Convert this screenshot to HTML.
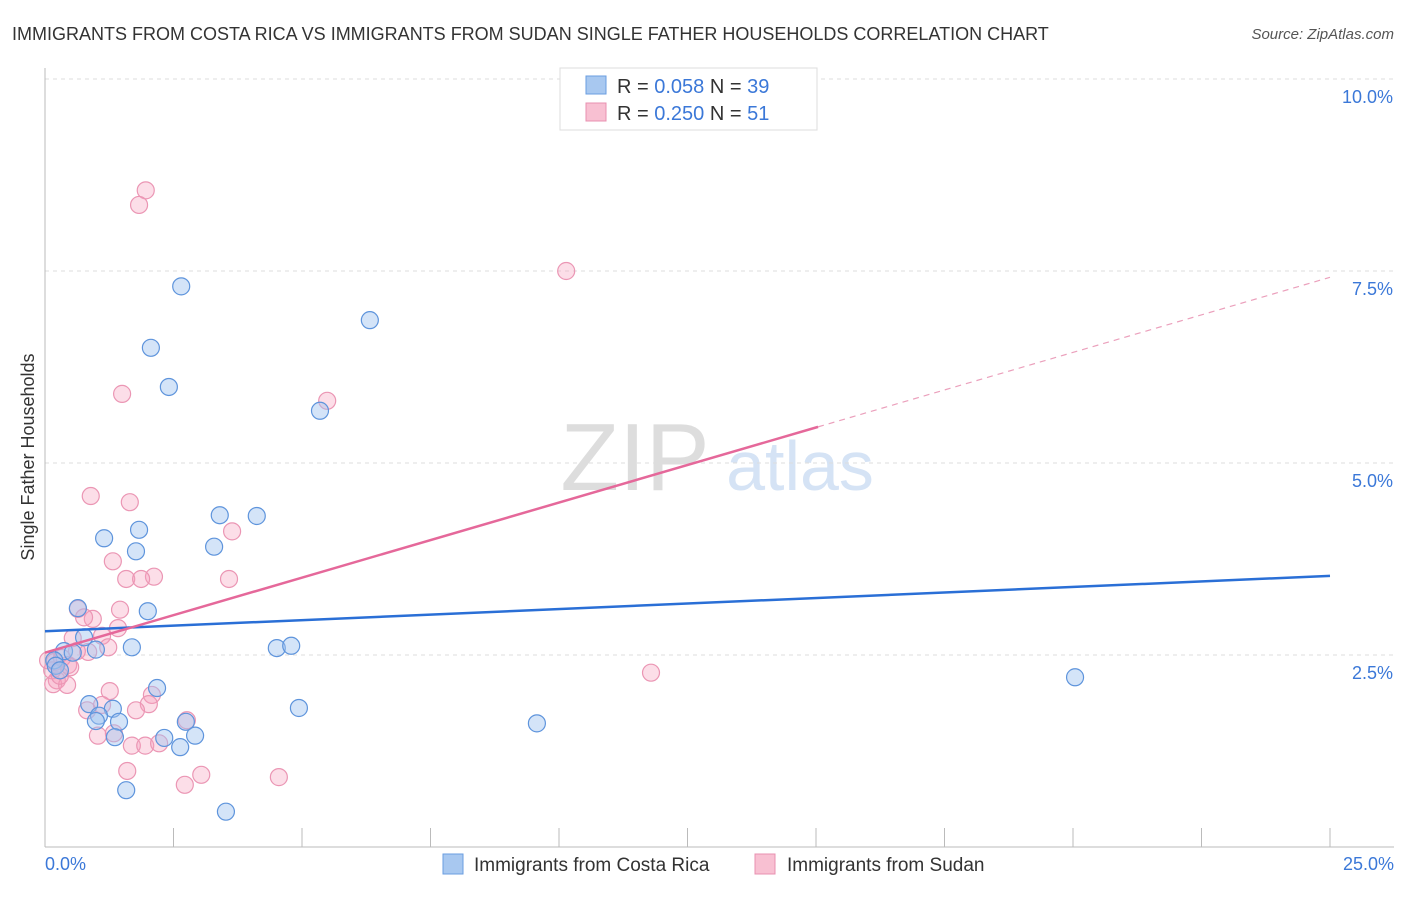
<!DOCTYPE html>
<html><head><meta charset="utf-8"><style>
body{margin:0;background:#fff;font-family:"Liberation Sans",sans-serif;}
svg text{font-family:"Liberation Sans",sans-serif;}
</style></head><body>
<svg id="c" width="1406" height="892" xmlns="http://www.w3.org/2000/svg">
<text x="12" y="40" font-size="18" fill="#333">IMMIGRANTS FROM COSTA RICA VS IMMIGRANTS FROM SUDAN SINGLE FATHER HOUSEHOLDS CORRELATION CHART</text>
<text x="1394" y="39" font-size="15" fill="#555" font-style="italic" text-anchor="end">Source: ZipAtlas.com</text>
<text x="635" y="490" font-size="96" fill="#ddd" font-family="Liberation Serif" text-anchor="middle">ZIP</text>
<text x="800" y="490" font-size="70" fill="#d5e3f5" text-anchor="middle">atlas</text>
<text transform="translate(34,457) rotate(-90)" font-size="18" fill="#333" text-anchor="middle">Single Father Households</text>
<g id="grid"></g><g id="pts"></g><g id="lines"></g>
<g>
<rect x="560" y="68" width="257" height="62" fill="#fff" stroke="#ddd"/>
<rect x="586" y="76" width="20" height="18" fill="#a8c8f0" stroke="#6a9ee0"/>
<rect x="586" y="103" width="20" height="18" fill="#f8c0d2" stroke="#e890b0"/>
<text x="617" y="93" font-size="20" fill="#333">R = <tspan fill="#3b78d8">0.058</tspan>   N = <tspan fill="#3b78d8">39</tspan></text>
<text x="617" y="120" font-size="20" fill="#333">R = <tspan fill="#3b78d8">0.250</tspan>   N =  <tspan fill="#3b78d8">51</tspan></text>
</g>
<g>
<rect x="443" y="854" width="20" height="20" fill="#a8c8f0" stroke="#6a9ee0"/>
<text x="474" y="871" font-size="19" fill="#333">Immigrants from Costa Rica</text>
<rect x="755" y="854" width="20" height="20" fill="#f8c0d2" stroke="#e890b0"/>
<text x="787" y="871" font-size="19" fill="#333">Immigrants from Sudan</text>
</g>
<text x="45" y="870" font-size="18" fill="#3b78d8">0.0%</text>
<text x="1394" y="870" font-size="18" fill="#3b78d8" text-anchor="end">25.0%</text>
</svg>
<script>
const yTicks=[2.5,5.0,7.5,10.0];
const yTickLabels=["2.5%","5.0%","7.5%","10.0%"];
const blueX=[2.65,2.06,2.41,6.32,5.35,3.40,4.12,1.83,1.15,1.77,3.29,2.00,0.64,0.76,1.69,4.51,4.79,0.37,0.99,0.18,0.21,0.29,2.18,0.86,1.32,1.05,1.44,2.74,4.94,0.99,2.32,2.92,1.36,2.63,1.58,3.52,9.57,20.04,0.54];
const blueY=[7.30,6.50,5.99,6.86,5.68,4.32,4.31,4.13,4.02,3.85,3.91,3.07,3.11,2.73,2.60,2.59,2.62,2.55,2.57,2.43,2.36,2.30,2.07,1.86,1.80,1.71,1.63,1.63,1.81,1.64,1.42,1.45,1.43,1.30,0.74,0.46,1.61,2.21,2.53];
const pinkX=[1.96,1.83,10.14,1.50,5.49,0.89,1.65,3.64,1.32,1.58,2.12,1.87,3.58,0.64,1.46,0.93,0.76,1.42,1.11,0.54,0.84,0.62,0.45,0.19,0.23,0.16,0.43,11.79,1.26,2.08,2.02,1.77,0.82,1.11,2.76,1.34,1.03,1.69,1.95,2.22,1.60,3.04,2.72,4.55,0.14,0.33,0.49,0.06,0.29,1.23];
const pinkY=[8.55,8.36,7.50,5.90,5.81,4.57,4.49,4.11,3.72,3.49,3.52,3.49,3.49,3.10,3.09,2.97,2.99,2.85,2.75,2.72,2.54,2.55,2.37,2.41,2.17,2.12,2.11,2.27,2.03,1.98,1.86,1.78,1.78,1.85,1.65,1.48,1.45,1.32,1.32,1.35,0.99,0.94,0.81,0.91,2.30,2.46,2.34,2.43,2.23,2.60];
const blueTrend=[2.81,0.0288];
const pinkTrend=[2.53,0.1955];
const pinkSolidEnd=15.04;
const xMax=25;
const NS="http://www.w3.org/2000/svg";
const sx=v=>45+v*(1285/25), sy=v=>847-v*76.8;
function mk(t,a,p){const e=document.createElementNS(NS,t);for(const k in a)e.setAttribute(k,a[k]);p.appendChild(e);return e;}
const grid=document.getElementById('grid');
yTicks.forEach((t,i)=>{
 const l=mk('line',{x1:45,x2:1394,y1:sy(t),y2:sy(t),stroke:'#ddd','stroke-dasharray':'4,4'},grid);
 
 
 const tx=mk('text',{x:1393,y:sy(t)+24,'font-size':18,fill:'#3b78d8','text-anchor':'end'},grid);
 tx.textContent=yTickLabels[i];
 
 
});
const ax=mk('line',{x1:45,x2:45,y1:68,y2:847,stroke:'#bbb'},grid);


const bx=mk('line',{x1:45,x2:1394,y1:847,y2:847,stroke:'#bbb'},grid);


for(let i=1;i<=10;i++){const t=mk('line',{x1:sx(i*2.5),x2:sx(i*2.5),y1:828,y2:847,stroke:'#bbb'},grid);
 
 }
const pts=document.getElementById('pts');
pinkX.forEach((x,i)=>{const c=mk('circle',{cx:sx(x),cy:sy(pinkY[i]),r:8.5,fill:'rgba(245,160,190,0.35)',stroke:'#eb96b4','stroke-width':1.2},pts);
 
 });
blueX.forEach((x,i)=>{const c=mk('circle',{cx:sx(x),cy:sy(blueY[i]),r:8.5,fill:'rgba(160,195,240,0.45)',stroke:'#5e94dc','stroke-width':1.2},pts);
 
 });
const ln=document.getElementById('lines');
const b=mk('line',{x1:sx(0),y1:sy(blueTrend[0]),x2:sx(xMax),y2:sy(blueTrend[0]+blueTrend[1]*xMax),stroke:'#2a6fd6','stroke-width':2.5},ln);


const p=mk('line',{x1:sx(0),y1:sy(pinkTrend[0]),x2:sx(pinkSolidEnd),y2:sy(pinkTrend[0]+pinkTrend[1]*pinkSolidEnd),stroke:'#e5689a','stroke-width':2.5},ln);


const pd=mk('line',{x1:sx(pinkSolidEnd),y1:sy(pinkTrend[0]+pinkTrend[1]*pinkSolidEnd),x2:sx(xMax),y2:sy(pinkTrend[0]+pinkTrend[1]*xMax),stroke:'#eba0bc','stroke-width':1.2,'stroke-dasharray':'6,5'},ln);


</script>
</body></html>
